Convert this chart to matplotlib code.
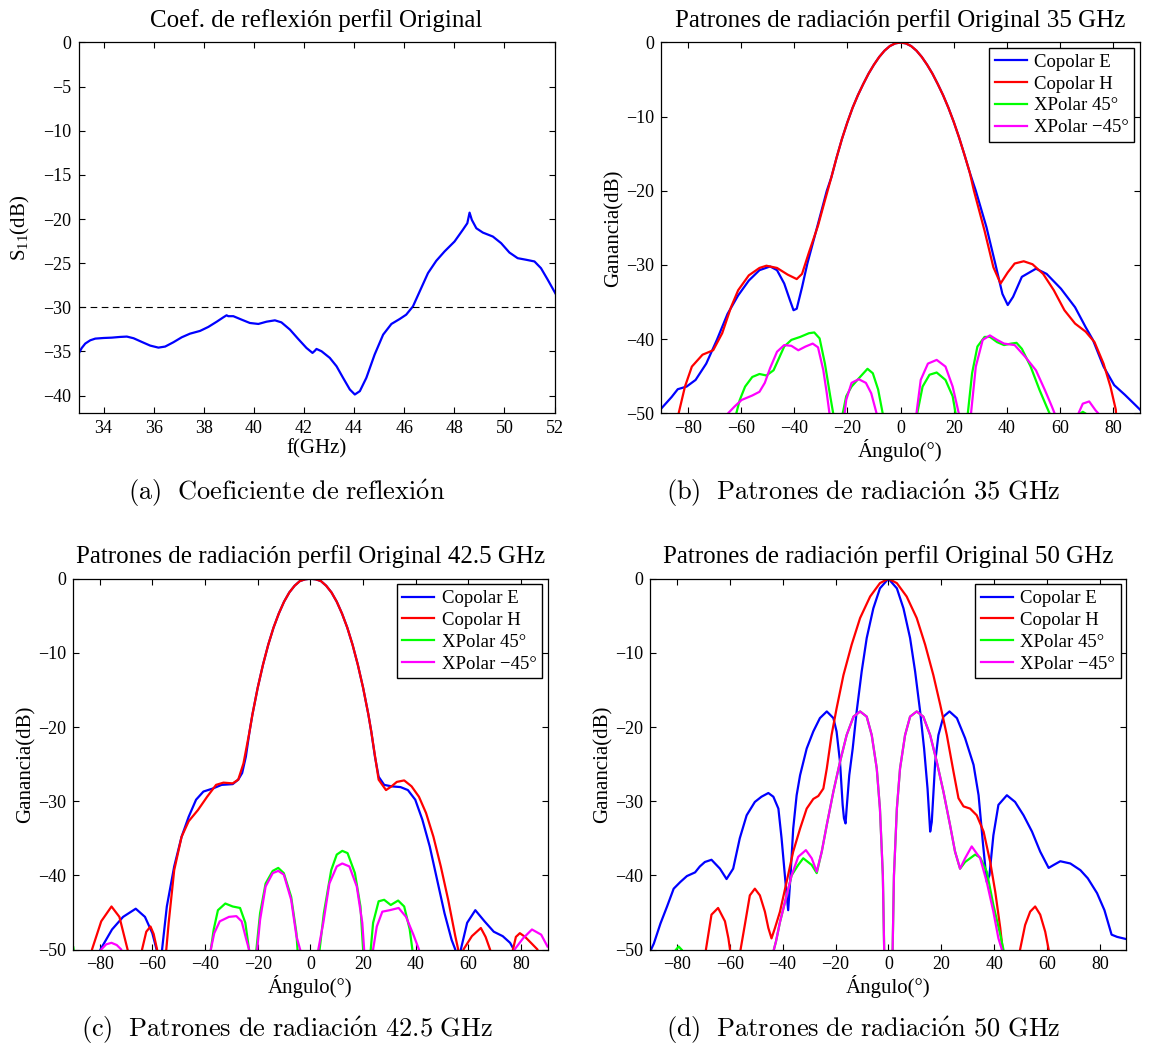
import numpy as np
import matplotlib
matplotlib.use("Agg")
import matplotlib.pyplot as plt

plt.rcParams['font.family'] = ['Liberation Serif', 'DejaVu Serif']
plt.rcParams['mathtext.fontset'] = 'custom'
plt.rcParams['mathtext.rm'] = 'Liberation Serif'
plt.rcParams['mathtext.it'] = 'Liberation Serif:italic'

# ── (a) coeficiente de reflexión ───────────────────────────
a_freq = [33.0, 33.13, 33.27, 33.47, 33.67, 34.0, 34.33, 34.66, 34.93, 35.2, 35.53,
          35.86, 36.19, 36.46, 36.79, 37.12, 37.45, 37.85, 38.18, 38.52, 38.78,
          38.91, 38.98, 39.18, 39.51, 39.84, 40.18, 40.51, 40.84, 41.1, 41.44,
          41.77, 42.1, 42.34, 42.43, 42.5, 42.7, 43.03, 43.3, 43.56, 43.83, 44.03,
          44.23, 44.49, 44.82, 45.16, 45.49, 45.82, 46.08, 46.35, 46.62, 46.95,
          47.28, 47.61, 48.01, 48.34, 48.52, 48.61, 48.7, 48.88, 49.14, 49.54,
          49.87, 50.2, 50.53, 50.87, 51.2, 51.46, 51.73, 52.05]
a_s11 = [-35.27, -34.6, -34.1, -33.73, -33.54, -33.47, -33.43, -33.35, -33.31,
         -33.5, -33.92, -34.33, -34.56, -34.44, -33.95, -33.39, -32.98, -32.67,
         -32.22, -31.62, -31.13, -30.9, -31.0, -31.0, -31.39, -31.77, -31.88,
         -31.62, -31.47, -31.7, -32.52, -33.58, -34.6, -35.16, -34.93, -34.71,
         -34.97, -35.72, -36.67, -37.98, -39.3, -39.87, -39.49, -37.98, -35.35,
         -33.09, -31.88, -31.32, -30.83, -29.89, -28.19, -26.12, -24.73, -23.67,
         -22.54, -21.22, -20.47, -19.27, -20.09, -21.04, -21.53, -21.98, -22.73,
         -23.79, -24.43, -24.61, -24.8, -25.56, -26.87, -28.49]
a_limite = -30

# ── (b) 35 GHz ─────────────────────────────────────────────
b_lob_ang = [-26, -24, -22, -20, -18, -16, -14, -12, -10, -8, -6, -4, -2, 0,
             2, 4, 6, 8, 10, 12, 14, 16, 18, 20, 22, 24, 26]
b_lob = [-18.2, -15.5, -13.0, -10.8, -8.8, -7.1, -5.6, -4.2, -3.0, -1.95,
         -1.1, -0.48, -0.12, 0, -0.12, -0.48, -1.1, -1.95, -3.0, -4.2, -5.6,
         -7.1, -8.8, -10.7, -12.8, -15.1, -17.5]

b_E_ang = ([-90, -86, -83.7, -80.4, -77, -73, -69, -65, -61, -57, -53, -49, -46.4,
            -43.7, -41.5, -40.2, -39, -37, -35, -31.7, -27.7] + b_lob_ang +
           [28.3, 32.3, 35.6, 38.3, 40.3, 42.3, 45.6, 50.9, 54.9, 60.3, 65.6, 69.6,
            72.3, 76.3, 80.3, 84.3, 88.3, 90])
b_E = ([-49.4, -47.8, -46.75, -46.4, -45.5, -43.3, -40.1, -36.6, -34.1, -32.1,
        -30.7, -30.2, -30.7, -32.5, -34.8, -36.1, -35.9, -33.0, -29.8, -25.4, -20.0]
       + b_lob +
       [-20.0, -24.9, -29.8, -33.9, -35.4, -34.3, -31.6, -30.5, -31.2, -33.2, -35.7,
        -38.4, -40.1, -43.7, -46.2, -47.5, -48.9, -49.5])

b_H_ang = ([-85, -83.7, -81, -78.4, -74.4, -70.4, -67, -63.7, -61, -57, -53, -50.4,
            -46.4, -42.4, -39, -37, -34.4, -31, -28.4] + b_lob_ang +
           [27.6, 31.6, 34.9, 37.6, 40.3, 42.9, 46.3, 49.6, 53.6, 57.6, 61.6, 65.6,
            69.6, 72.9, 76.3, 78.9, 80.9, 82.5])
b_H = ([-58, -50.5, -46.4, -43.7, -42.1, -41.5, -39.2, -35.7, -33.4, -31.4, -30.4,
        -30.1, -30.4, -31.3, -31.9, -31.2, -28.3, -24.7, -21.3] + b_lob +
       [-20.0, -25.4, -30.3, -32.5, -31.0, -29.8, -29.5, -29.9, -31.2, -33.4, -36.1,
        -37.9, -39.0, -40.4, -43.3, -46.4, -49.5, -58])

b_X45_ang = [-63, -61.7, -60.4, -58.4, -55.7, -53, -50.4, -47.7, -45.7, -43.7, -41,
             -37.7, -34.4, -32.4, -30.4, -28.4, -26.4, -25.3, -23.5, -21.7, -20.4,
             -18.4, -15.7, -12.4, -10.4, -8.4, -6.7, 0, 6.3, 8.3, 10.9, 13.6, 16.9,
             19.6, 20.7, 23, 25.3, 26.9, 28.9, 31.6, 33.6, 36.3, 38.9, 41.6, 43.6,
             45.6, 48.9, 52.3, 54.9, 56, 61, 66.9, 68.5, 70.3, 72]
b_X45 = [-58, -50, -48.2, -46.4, -45.1, -44.7, -44.9, -44.2, -42.6, -41.0, -40.1,
         -39.7, -39.2, -39.1, -39.9, -43.3, -47.7, -50, -60, -50, -47.7, -46.4,
         -45.3, -44.0, -44.6, -46.8, -50, -60, -50, -46.4, -44.8, -44.5, -45.5,
         -47.7, -50, -60, -50, -44.6, -41.0, -39.7, -39.7, -40.4, -40.8, -40.6,
         -40.5, -41.3, -43.7, -46.9, -49.1, -50, -60, -50.2, -49.8, -50.2, -60]

b_Xm45_ang = [-66, -64.8, -62.4, -59.7, -55.7, -53, -51, -49, -46.4, -43.7, -41,
              -38.4, -35.7, -33, -31, -29, -27.7, -26.7, -24, -21, -20.4, -18.4,
              -15.7, -13, -11, -9, 0, 6, 7.6, 10.3, 13.6, 16.9, 19.6, 21.9, 24,
              26.5, 28.3, 30.9, 33.6, 36.3, 38.9, 42.9, 46.9, 50.9, 54.3, 56.9,
              57.9, 62, 66.9, 68.5, 70.9, 73.3, 74.3, 76]
b_Xm45 = [-58, -50, -49.1, -48.2, -47.6, -47.1, -45.9, -43.9, -41.7, -40.8, -40.9,
          -41.5, -41.0, -40.6, -41.1, -44.2, -47.3, -50, -60, -50, -48.2, -45.9,
          -45.4, -45.9, -47.3, -50, -60, -50, -45.5, -43.3, -42.8, -43.7, -46.4,
          -50, -60, -50, -43.7, -40.1, -39.5, -40.1, -40.6, -40.8, -42.4, -44.2,
          -46.9, -49.1, -50, -60, -50, -48.7, -48.4, -49.6, -50, -58]

# ── (c) 42.5 GHz ───────────────────────────────────────────
c_lob_ang = [-24.5, -23.1, -22, -20, -18, -16, -14, -12, -10, -8, -6, -4, -2, 0,
             2, 4, 6, 8, 10, 12, 14, 16, 18, 20, 22, 23.1, 24.5]
c_lob = [-24.0, -20.6, -18.3, -14.7, -11.6, -8.9, -6.6, -4.7, -3.1, -1.85, -0.95,
         -0.32, -0.08, 0, -0.08, -0.32, -0.95, -1.85, -3.1, -4.7, -6.6, -8.9,
         -11.6, -14.7, -18.3, -20.6, -24.0]

c_E_ang = ([-82, -79.7, -75.3, -71.1, -66.3, -62.8, -60, -58.4, -57.4, -56.3, -54.5,
            -51.7, -48.9, -46.2, -43.4, -40.6, -37.1, -33.7, -29.5, -27.4, -25.9]
           + c_lob_ang +
           [25.9, 28, 30.8, 34.2, 37, 39.8, 42.5, 45.3, 48.1, 50.9, 53.6, 55, 56,
            57.1, 59.5, 62.6, 66.1, 69.6, 73, 75.8, 77.2, 78.5])
c_E = ([-58, -50, -47.3, -45.6, -44.5, -45.6, -47.8, -50, -58, -50, -44.2, -38.8,
        -34.8, -32.1, -29.8, -28.7, -28.3, -27.8, -27.7, -27.1, -26.2] + c_lob +
       [-26.7, -27.8, -28.0, -28.1, -28.5, -29.8, -32.5, -36.1, -40.6, -45.1, -48.7,
        -50, -58, -50, -46.4, -44.7, -46.2, -47.6, -48.2, -49.1, -50, -58])

c_H_ang = ([-85, -82.9, -79.4, -75.5, -72.5, -69.4, -66.5, -63.9, -62.3, -60.7,
            -59.5, -58.2, -56.5, -54.7, -53.8, -51.7, -48.9, -46.2, -42.7, -39.2,
            -35.8, -33, -29.5, -27.4, -25.4] + c_lob_ang[1:-1] +
           [25.9, 28.7, 30.8, 32.8, 35.6, 38.4, 41.2, 43.9, 46.7, 49.5, 52.3, 55,
            56.1, 57, 58.1, 61.3, 64.7, 66.5, 68.2, 72, 76.9, 78, 79.5, 81.5, 84,
            86.2, 88])
c_H = ([-58, -50, -46.2, -44.2, -45.6, -50, -58, -50, -47.6, -46.9, -47.9, -50, -58,
        -50, -46.4, -39.3, -34.8, -32.7, -31.2, -29.4, -27.8, -27.5, -27.6, -27.1,
        -24.9] + c_lob[1:-1] +
       [-27.1, -28.5, -28.0, -27.4, -27.2, -28.0, -29.4, -31.6, -34.8, -38.8, -43.3,
        -48.2, -50, -58, -50, -48.2, -47.1, -48.3, -50, -60, -50, -48.3, -47.8,
        -48.3, -49.2, -50, -58])

c_X45_ang = [-90, -89, -87, -40, -37.8, -36.7, -35.1, -32.3, -29.5, -26.7, -24.7,
             -23.3, -22, -20.5, -19.1, -17, -14.3, -12.2, -10.1, -7.3, -5.3, -4.9,
             0, 3.5, 5.1, 7.9, 10, 12.1, 14.1, 16.9, 19, 20, 21.5, 22.9, 23.8, 25.9,
             28, 30.5, 33.3, 35.6, 37.7, 38.7, 40]
c_X45 = [-49.7, -52, -60, -60, -50, -47.3, -44.7, -43.8, -44.2, -44.4, -46.4, -50,
         -60, -50, -45.1, -41.1, -39.4, -39.0, -39.7, -42.9, -47.8, -50, -60, -50,
         -45.1, -39.3, -37.2, -36.7, -37.0, -39.7, -44.2, -50, -60, -50, -46.4,
         -43.5, -43.3, -44.0, -43.4, -44.2, -47.3, -50, -60]

c_Xm45_ang = [-82, -79.4, -77.5, -75.5, -73.5, -71.8, -69, -40, -37.8, -36.5, -34.4,
              -30.9, -28.1, -26.1, -24.3, -23.3, -21.8, -20.2, -19.1, -17, -14.3,
              -12.2, -10.1, -7.3, -5.3, -3.9, 0, 3, 4.9, 7.2, 10, 12.1, 14.8, 17.6,
              19.7, 20.4, 22, 23.8, 25.2, 27.3, 30.1, 33.5, 36.3, 39.1, 41.2, 43,
              75, 77.5, 80.7, 84.1, 87.6, 90]
c_Xm45 = [-60, -50, -49.3, -49.1, -49.4, -50, -60, -60, -50, -47.8, -46.2, -45.6,
          -45.5, -46.2, -48.7, -50, -60, -50, -46.0, -41.5, -39.7, -39.4, -39.9,
          -43.3, -48.2, -50, -60, -50, -46.4, -41.1, -38.8, -38.4, -38.8, -41.5,
          -46.4, -50, -60, -50, -46.9, -44.9, -44.7, -44.4, -45.6, -48.0, -50, -60,
          -60, -50, -48.5, -47.3, -48.0, -49.6]

# ── (d) 50 GHz ─────────────────────────────────────────────
d_E_ang = [-90, -88.7, -86.2, -83.7, -81.2, -78.7, -76.2, -73.1, -71.3, -69.4,
           -66.9, -63.7, -61.2, -58.7, -56.2, -53.6, -50.5, -48, -45.4, -43.5, -41.6,
           -40.4, -38.7, -37.9, -37, -36, -34.7, -33.4, -30.9, -28.4, -25.9, -23.3,
           -20.8, -19.6, -18.3, -17.3, -16.8, -16.2, -15.8, -14.8, -13.5, -12, -10.1,
           -8.2, -5.7, -3.2, 0, 3.2, 5.7, 8.2, 10.1, 12, 13.5, 14.8, 15.8, 16.4,
           17.7, 18.9, 20.8, 23.1, 25.9, 29, 32.2, 34.1, 35.7, 37.2, 38.2, 39.7,
           41.6, 44.8, 47.9, 51.1, 54.3, 57.4, 60.6, 62.5, 65, 68.8, 72.6, 75.4,
           78.9, 81.7, 84.4, 86.5, 90]
d_E = [-50.2, -49.2, -46.5, -44.2, -41.8, -40.9, -40.1, -39.6, -38.8, -38.2, -37.9,
       -39.1, -40.5, -39.1, -35.0, -31.9, -30.1, -29.4, -28.9, -29.4, -31.0, -35.0,
       -41.8, -44.7, -40.0, -33.7, -29.2, -26.5, -22.9, -20.6, -18.8, -17.9, -18.8,
       -20.6, -24.7, -30.5, -32.3, -33.0, -31.0, -26.5, -22.9, -17.9, -12.5, -8.0,
       -4.0, -1.3, 0, -1.3, -4.0, -8.0, -12.5, -17.9, -22.9, -28.3, -34.1, -32.8,
       -24.7, -21.1, -18.6, -17.9, -18.8, -21.5, -25.1, -29.2, -35.5, -40.9, -40.0,
       -34.6, -30.5, -29.2, -30.1, -31.9, -34.1, -36.8, -39.0, -38.6, -38.1, -38.4,
       -39.3, -40.4, -42.4, -44.7, -48.0, -48.3, -48.6]

d_H_ang = [-70, -69, -66.9, -64.4, -61.8, -60.5, -59.9, -58, -55.9, -54.3, -52.4,
           -50.5, -48.6, -46.7, -45.4, -44.2, -42.9, -41, -38.5, -36, -33.4, -30.9,
           -28.4, -26.5, -24.6, -23.3, -21.5, -19.6, -17, -13.9, -10.7, -6.9, -3.2,
           0, 3.2, 6.9, 10.7, 13.9, 17, 19.6, 22.1, 24.6, 26.5, 28.4, 30.9, 33.4, 36,
           38.5, 40.4, 42.3, 43.2, 46, 49.8, 51.7, 53.6, 55.5, 57.4, 59.3, 60.6, 62]
d_H = [-60, -50, -45.3, -44.4, -46.2, -48.5, -50, -60, -50, -46.7, -42.7, -41.8,
       -42.7, -44.9, -47.1, -48.5, -47.1, -44.9, -40.9, -36.8, -33.7, -31.0, -29.7,
       -29.3, -28.3, -25.6, -21.1, -17.5, -13.0, -8.9, -5.3, -2.4, -0.6, 0, -0.6,
       -2.4, -5.3, -8.9, -13.0, -17.0, -21.1, -26.0, -29.6, -30.7, -31.0, -31.9,
       -34.1, -38.2, -42.2, -47.1, -50, -60, -50, -46.7, -44.9, -44.2, -45.3, -47.6,
       -50, -60]

d_X45_ang = [-82, -80.5, -79.3, -78, -76, -45, -43.3, -42.5, -41, -39.1, -36.6,
             -34.1, -32.2, -29, -27.1, -25.2, -23.3, -20.8, -18.3, -15.8, -13.2,
             -10.7, -8.2, -6.3, -4.4, -3.2, -2.1, -1.6, 0, 1.6, 2.1, 3.2, 4.4, 6.3,
             8.2, 10.7, 13.2, 15.8, 18.3, 20.8, 23.3, 25.2, 27.1, 29, 32.8, 34.7,
             37.2, 39.7, 42.3, 43.5, 45]
d_X45 = [-60, -50.1, -49.6, -50.1, -60, -60, -50, -48.9, -46.3, -43.6, -40.0, -38.6,
         -37.7, -38.6, -39.7, -36.8, -33.2, -28.7, -24.7, -21.1, -18.6, -17.9, -18.6,
         -21.1, -25.6, -31.0, -40.0, -50, -60, -50, -40.0, -31.0, -25.6, -21.1,
         -18.6, -17.9, -18.6, -21.1, -24.7, -28.7, -33.2, -36.8, -39.1, -38.2,
         -37.2, -37.6, -39.5, -44.0, -48.0, -50, -60]

d_Xm45_ang = [-45, -43.3, -42.5, -41, -39.1, -36.6, -34.1, -31.2, -29, -27.1, -25.2,
              -23.3, -20.8, -18.3, -15.8, -13.2, -10.7, -8.2, -6.3, -4.4, -3.2, -2.1,
              -1.6, 0, 1.6, 2.1, 3.2, 4.4, 6.3, 8.2, 10.7, 13.2, 15.8, 18.3, 20.8,
              23.3, 25.2, 27.1, 29, 31.5, 34.7, 37.2, 39.7, 41.6, 42.9, 45]
d_Xm45 = [-60, -50, -48.9, -46.3, -43.6, -40.0, -37.5, -36.6, -37.7, -39.5, -36.8,
          -33.2, -28.7, -24.7, -21.1, -18.6, -17.9, -18.6, -21.1, -25.6, -31.0,
          -40.0, -50, -60, -50, -40.0, -31.0, -25.6, -21.1, -18.6, -17.9, -18.6,
          -21.1, -24.7, -28.7, -33.2, -36.8, -39.1, -37.7, -36.1, -37.7, -40.9,
          -44.9, -48.5, -50, -60]

leyenda = ['Copolar E', 'Copolar H', 'XPolar 45°', 'XPolar \u221245°']
colores = ['#0000ff', '#ff0000', '#00ff00', '#ff00ff']
titulos = ['Coef. de reflexión perfil Original',
           'Patrones de radiación perfil Original 35 GHz',
           'Patrones de radiación perfil Original 42.5 GHz',
           'Patrones de radiación perfil Original 50 GHz']
subtitulos = [r'$\mathrm{(a)\ \ Coeficiente\ de\ reflexi\acute{o}n}$',
              r'$\mathrm{(b)\ \ Patrones\ de\ radiaci\acute{o}n\ 35\ GHz}$',
              r'$\mathrm{(c)\ \ Patrones\ de\ radiaci\acute{o}n\ 42.5\ GHz}$',
              r'$\mathrm{(d)\ \ Patrones\ de\ radiaci\acute{o}n\ 50\ GHz}$']

# ── Figura ─────────────────────────────────────────────────
W, H = 1151, 1045
fig = plt.figure(figsize=(W / 100, H / 100), dpi=100)


def ejes(izq, arr, der, aba):
    ax = fig.add_axes([izq / W, 1 - aba / H, (der - izq) / W, (aba - arr) / H])
    ax.tick_params(direction='in', top=True, right=True, length=4, width=0.8,
                   labelsize=13, pad=5)
    for s in ax.spines.values():
        s.set_linewidth(0.9)
    return ax


ax_a = ejes(78.5, 42.5, 554.5, 413.3)
ax_b = ejes(661, 42.5, 1140, 413.3)
ax_c = ejes(73.3, 578.7, 547.5, 949.5)
ax_d = ejes(650.4, 578.7, 1126.4, 949.5)

ax_a.plot(a_freq, a_s11, color='#0000ff', lw=1.6)
ax_a.axhline(a_limite, color='k', lw=0.8, ls=(0, (6, 4)))
ax_a.set_xlim(33, 52)
ax_a.set_ylim(-42, 0)
ax_a.set_xticks(np.arange(34, 53, 2))
ax_a.set_yticks(np.arange(-40, 1, 5))
ax_a.set_xlabel('f(GHz)', fontsize=15, labelpad=1)
ax_a.set_ylabel('S$_{\\mathrm{11}}$(dB)', fontsize=15, labelpad=8)
ax_a.set_title(titulos[0], fontsize=18, pad=11)

datos = [
    (ax_b, [(b_E_ang, b_E), (b_H_ang, b_H), (b_X45_ang, b_X45), (b_Xm45_ang, b_Xm45)]),
    (ax_c, [(c_E_ang, c_E), (c_H_ang, c_H), (c_X45_ang, c_X45), (c_Xm45_ang, c_Xm45)]),
    (ax_d, [(d_E_ang, d_E), (d_H_ang, d_H), (d_X45_ang, d_X45), (d_Xm45_ang, d_Xm45)]),
]

for i, (ax, curvas) in enumerate(datos):
    for (x, y), c, lab in zip(curvas, colores, leyenda):
        ax.plot(x, y, color=c, lw=1.6, label=lab)
    ax.set_xlim(-90, 90)
    ax.set_ylim(-50, 0)
    ax.set_xticks(np.arange(-80, 81, 20))
    ax.set_yticks(np.arange(-50, 1, 10))
    ax.set_xlabel('Ángulo(°)', fontsize=15, labelpad=1)
    ax.set_ylabel('Ganancia(dB)', fontsize=15, labelpad=2)
    ax.set_title(titulos[i + 1], fontsize=18, pad=11)
    leg = ax.legend(loc='upper right', fontsize=13.5, fancybox=False,
                    edgecolor='k', framealpha=1, borderaxespad=0.3,
                    handlelength=1.7, handletextpad=0.4, labelspacing=0.25,
                    borderpad=0.3)
    leg.get_frame().set_linewidth(1.0)

# subtítulos estilo LaTeX
pos = [(287, 500.5), (863, 500.5), (287, 1036.7), (863, 1036.7)]
for (x, y), t in zip(pos, subtitulos):
    fig.text(x / W, 1 - y / H, t, ha='center', va='baseline', fontsize=19,
             math_fontfamily='cm')

plt.savefig('out.png', dpi=100)
